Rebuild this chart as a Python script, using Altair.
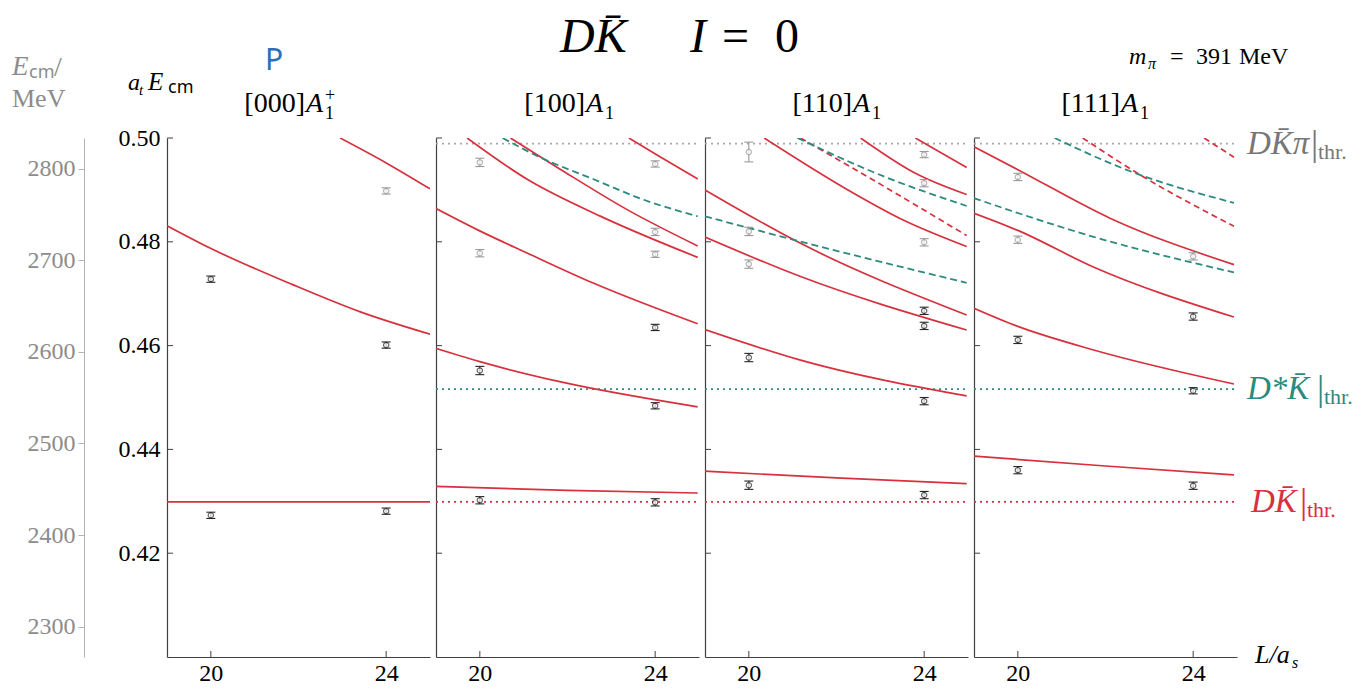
import altair as alt
import pandas as pd

SERIF = "Liberation Serif"
SANS = "Noto Sans"
RED = "#d7313e"
TEAL = "#2c8a7f"
THR_GRAY = "#a8a8a8"
PT_BLACK = "#262626"
PT_GRAY = "#9a9a9a"
AXIS_C = "#404040"
LABEL_GRAY = "#8c8c8c"
BLUE = "#2f6db5"

# scales: box size L/a_s against a_t E_cm, plus the physical-units axis
L_DOMAIN = [19, 25]
E_DOMAIN = [0.40, 0.50]
INV_AT_MEV = 5667.0
W, H = 263, 519

L_TICKS = [20, 24]
E_TICKS = [0.42, 0.44, 0.46, 0.48, 0.50]
MEV_TICKS = [2300, 2400, 2500, 2600, 2700, 2800]

# thresholds in a_t E_cm
THR_DKPI = 0.4989
THR_DSTARK = 0.4516
THR_DK = 0.4299

# non-interacting levels: (style, L values, a_t E values)
P1_CURVES = [
    ("solid", [19.0, 22.0, 25.0], [0.4299, 0.4299, 0.4299]),
    ("solid", [19.0, 19.98, 21.88, 23.41, 25.0], [0.4831, 0.4788, 0.4717, 0.4665, 0.4622]),
    ("solid", [22.95, 24.0, 25.0], [0.5000, 0.4952, 0.4902]),
]
P2_CURVES = [
    ("solid", [18.98, 22.0, 24.97], [0.4329, 0.4321, 0.4316]),
    ("solid", [18.98, 20.0, 21.85, 24.97], [0.4595, 0.4569, 0.4530, 0.4482]),
    ("solid", [18.98, 19.95, 21.09, 22.6, 24.97], [0.4865, 0.4823, 0.4778, 0.4720, 0.4642]),
    ("solid", [19.71, 21.09, 22.76, 24.97], [0.5000, 0.4920, 0.4849, 0.4770]),
    ("solid", [20.70, 21.85, 23.36, 24.97], [0.5000, 0.4939, 0.4862, 0.4792]),
    ("solid", [23.40, 24.11, 24.97], [0.5000, 0.4964, 0.4921]),
    ("teal", [20.52, 21.32, 22.61, 23.74, 24.97], [0.5000, 0.4965, 0.4920, 0.4881, 0.4849]),
]
P3_CURVES = [
    ("solid", [19.0, 22.0, 24.97], [0.4358, 0.4345, 0.4334]),
    ("solid", [19.0, 21.18, 24.97], [0.4631, 0.4572, 0.4503]),
    ("solid", [19.0, 21.18, 24.97], [0.4809, 0.4733, 0.4630]),
    ("solid", [19.0, 21.18, 24.97], [0.4900, 0.4797, 0.4659]),
    ("solid", [20.35, 22.32, 23.45, 24.97], [0.5000, 0.4897, 0.4845, 0.4791]),
    ("solid", [22.55, 23.80, 24.97], [0.5000, 0.4932, 0.4891]),
    ("solid", [23.80, 24.97], [0.5000, 0.4943]),
    ("teal", [19.0, 21.94, 24.97], [0.4849, 0.4784, 0.4721]),
    ("teal", [21.11, 23.08, 24.97], [0.5000, 0.4926, 0.4869]),
    ("reddash", [21.18, 23.08, 24.97], [0.5000, 0.4907, 0.4812]),
]
P4_CURVES = [
    ("solid", [19.0, 22.0, 24.93], [0.4387, 0.4368, 0.4351]),
    ("solid", [19.0, 20.0, 21.71, 24.93], [0.4672, 0.4637, 0.4592, 0.4526]),
    ("solid", [19.0, 20.0, 21.71, 24.93], [0.4855, 0.4822, 0.4752, 0.4655]),
    ("solid", [19.0, 20.0, 22.09, 24.93], [0.4983, 0.4939, 0.4846, 0.4756]),
    ("teal", [19.0, 21.71, 24.93], [0.4884, 0.4810, 0.4741]),
    ("teal", [20.84, 22.47, 24.93], [0.5000, 0.4939, 0.4875]),
    ("reddash", [21.48, 22.85, 24.93], [0.5000, 0.4926, 0.4830]),
    ("reddash", [24.25, 24.93], [0.5000, 0.4963]),
]

# computed levels: (L, a_t E, error, tone)
P1_POINTS = [
    (20, 0.4273, 0.0006, "k"), (24, 0.4281, 0.0006, "k"),
    (20, 0.4728, 0.0006, "k"), (24, 0.4601, 0.0006, "k"),
    (24, 0.4898, 0.0006, "g"),
]
P2_POINTS = [
    (20, 0.4302, 0.0007, "k"), (24, 0.4298, 0.0007, "k"),
    (20, 0.4552, 0.0008, "k"), (24, 0.4484, 0.0006, "k"),
    (24, 0.4635, 0.0006, "k"),
    (20, 0.4778, 0.0007, "g"), (20, 0.4953, 0.0008, "g"),
    (24, 0.4776, 0.0006, "g"), (24, 0.4819, 0.0007, "g"), (24, 0.4950, 0.0006, "g"),
]
P3_POINTS = [
    (20, 0.4331, 0.0008, "k"), (24, 0.4312, 0.0007, "k"),
    (20, 0.4577, 0.0008, "k"), (24, 0.4493, 0.0007, "k"),
    (24, 0.4638, 0.0007, "k"), (24, 0.4667, 0.0007, "k"),
    (20, 0.4757, 0.0008, "g"), (20, 0.4820, 0.0008, "g"), (20, 0.4973, 0.0019, "g"),
    (24, 0.4799, 0.0007, "g"), (24, 0.4913, 0.0007, "g"), (24, 0.4968, 0.0006, "g"),
]
P4_POINTS = [
    (20, 0.4360, 0.0007, "k"), (24, 0.4330, 0.0007, "k"),
    (20, 0.4611, 0.0007, "k"), (24, 0.4513, 0.0006, "k"),
    (24, 0.4656, 0.0007, "k"),
    (20, 0.4804, 0.0007, "g"), (20, 0.4925, 0.0007, "g"),
    (24, 0.4772, 0.0007, "g"),
]

XS = alt.Scale(domain=L_DOMAIN, nice=False, zero=False)
YS = alt.Scale(domain=E_DOMAIN, nice=False, zero=False)


def text(s, x, y, size, color="black", font=SERIF, style="normal",
         align="left", baseline="alphabetic"):
    return alt.Chart(alt.Data(values=[{}])).mark_text(
        text=s, font=font, fontSize=size, fontStyle=style, color=color,
        align=align, baseline=baseline,
    ).encode(x=alt.value(x), y=alt.value(y))


def panel_title(box, x_right):
    return [
        text(box, x_right, -26, 28, align="right"),
        text("A", x_right + 1, -26, 28, style="italic"),
        text("1", x_right + 20, -19, 18),
    ]


def panel(curves, points, first=False, thresholds=True, extras=()):
    xaxis = alt.Axis(values=L_TICKS, format="d", ticks=False, labelFont=SERIF,
                     labelFontSize=24, labelColor="black", labelPadding=4,
                     domainColor=AXIS_C, domainWidth=1.2, grid=False, title=None)
    if first:
        yaxis = alt.Axis(values=E_TICKS, format=".2f", ticks=False, labelFont=SERIF,
                         labelFontSize=24, labelColor="black", labelPadding=7,
                         domainColor=AXIS_C, domainWidth=1.2, grid=False, title=None)
    else:
        yaxis = alt.Axis(labels=False, ticks=False, domainColor=AXIS_C,
                         domainWidth=1.2, grid=False, title=None)

    def X(f):
        return alt.X(f, type="quantitative", scale=XS, axis=xaxis)

    def Y(f):
        return alt.Y(f, type="quantitative", scale=YS, axis=yaxis)

    layers = []
    frame = pd.DataFrame({"L": L_DOMAIN, "E": E_DOMAIN})
    layers.append(alt.Chart(frame).mark_point(opacity=0).encode(x=X("L"), y=Y("E")))

    # inward ticks
    layers.append(alt.Chart(pd.DataFrame({"v": E_TICKS})).mark_rule(
        color=AXIS_C, strokeWidth=1).encode(y=Y("v"), x=alt.value(0), x2=alt.value(6)))
    layers.append(alt.Chart(pd.DataFrame({"v": L_TICKS})).mark_rule(
        color=AXIS_C, strokeWidth=1).encode(x=X("v"), y=alt.value(H), y2=alt.value(H - 6)))

    if thresholds:
        thr = pd.DataFrame({"E": [THR_DKPI, THR_DSTARK, THR_DK],
                            "c": [THR_GRAY, TEAL, RED]})
        layers.append(alt.Chart(thr).mark_rule(strokeDash=[2, 4], strokeWidth=1.8).encode(
            y=Y("E"), x=alt.value(0), x2=alt.value(W),
            color=alt.Color("c:N", scale=None)))

    rows = []
    for cid, (style, ls, es) in enumerate(curves):
        for l, e in zip(ls, es):
            rows.append({"cid": cid, "style": style, "L": l, "E": e})
    cdf = pd.DataFrame(rows)
    styles = {
        "solid": dict(color=RED, strokeWidth=1.7),
        "reddash": dict(color=RED, strokeWidth=1.7, strokeDash=[6, 4]),
        "teal": dict(color=TEAL, strokeWidth=1.8, strokeDash=[7, 4]),
    }
    for st, props in styles.items():
        sub = cdf[cdf["style"] == st]
        if len(sub) == 0:
            continue
        layers.append(alt.Chart(sub).mark_line(clip=True, interpolate="monotone", **props).encode(
            x=X("L"), y=Y("E"), detail="cid:N"))

    pdf = pd.DataFrame(points, columns=["L", "E", "err", "tone"])
    pdf["lo"] = pdf["E"] - pdf["err"]
    pdf["hi"] = pdf["E"] + pdf["err"]
    pdf["c"] = pdf["tone"].map({"k": PT_BLACK, "g": PT_GRAY})
    col = alt.Color("c:N", scale=None)
    pb = alt.Chart(pdf)
    layers.append(pb.mark_rule(strokeWidth=1.1).encode(x=X("L"), y=Y("lo"), y2="hi:Q", color=col))
    layers.append(pb.mark_rule(strokeWidth=1.1, xOffset=-4.5, x2Offset=4.5).encode(
        x=X("L"), x2="L:Q", y=Y("lo"), color=col))
    layers.append(pb.mark_rule(strokeWidth=1.1, xOffset=-4.5, x2Offset=4.5).encode(
        x=X("L"), x2="L:Q", y=Y("hi"), color=col))
    layers.append(pb.mark_point(shape="circle", filled=True, fill="white", size=28,
                                strokeWidth=1.2).encode(x=X("L"), y=Y("E"), stroke=col))

    def right_label(e, main, color, xm, xb, xt):
        d = alt.Chart(pd.DataFrame({"E": [e]}))
        return [
            d.mark_text(text=main, font=SERIF, fontStyle="italic", fontSize=33, color=color,
                        align="left", baseline="middle").encode(x=alt.value(xm), y=Y("E")),
            d.mark_text(text="|", font=SERIF, fontSize=36, color=color,
                        align="left", baseline="middle").encode(x=alt.value(xb), y=Y("E")),
            d.mark_text(text="thr.", font=SERIF, fontSize=22, color=color,
                        align="left", baseline="middle", dy=8).encode(x=alt.value(xt), y=Y("E")),
        ]

    for ex in extras:
        if ex == "right_labels":
            layers += right_label(THR_DKPI, "DK\u0304\u03c0", "#777777", 273, 337, 344)
            layers += right_label(THR_DSTARK, "D*K\u0304", TEAL, 273, 343, 350)
            layers += right_label(THR_DK, "DK\u0304", RED, 277, 326, 333)
        else:
            layers.append(ex)

    return alt.layer(*layers).properties(width=W, height=H)


# panel 1 annotations
p1_text = [
    text("E", -155, -63, 27, LABEL_GRAY, style="italic"),
    text("cm", -138, -60, 18, LABEL_GRAY, font=SANS),
    text("/", -113, -62, 28, LABEL_GRAY),
    text("MeV", -155, -31, 26, LABEL_GRAY),
    text("a", -39, -48, 24, style="italic"),
    text("t", -28, -43, 15, style="italic"),
    text("E", -19, -48, 25, style="italic"),
    text("cm", 1, -45, 18, font=SANS),
    text("P", 98, -68, 30, BLUE, font=SANS),
    text("+", 158, -37, 18),
] + panel_title("[000]", 138)

p2_text = panel_title("[100]", 149) + [
    text("DK\u0304", 124, -86, 48, style="italic"),
    text("I", 254, -86, 48, style="italic"),
    text("=", 286, -86, 48),
    text("0", 339, -86, 48),
]
p3_text = panel_title("[110]", 147)
p4_text = panel_title("[111]", 146) + [
    text("m", 155, -74, 24, style="italic"),
    text("\u03c0", 174, -69, 16, style="italic"),
    text("=", 196, -74, 24),
    text("391", 222, -74, 24),
    text("MeV", 265, -74, 24),
    text("L/a", 281, H + 6, 26, style="italic"),
    text("s", 318, H + 11, 16, style="italic"),
]

inner1 = panel(P1_CURVES, P1_POINTS, first=True, thresholds=False, extras=p1_text)

mev = alt.Chart(pd.DataFrame({"mev": [E_DOMAIN[0] * INV_AT_MEV, E_DOMAIN[1] * INV_AT_MEV]})).mark_point(
    opacity=0).encode(
    y=alt.Y("mev:Q",
            scale=alt.Scale(domain=[E_DOMAIN[0] * INV_AT_MEV, E_DOMAIN[1] * INV_AT_MEV],
                            nice=False, zero=False),
            axis=alt.Axis(orient="left", offset=83, values=MEV_TICKS, format="d",
                          labelFont=SERIF, labelFontSize=24, labelColor=LABEL_GRAY,
                          labelPadding=3, domainColor="#b4b4b4", tickColor="#b4b4b4",
                          tickSize=6, grid=False, title=None))
)
p1 = alt.layer(inner1, mev).resolve_scale(y="independent").properties(width=W, height=H)

p2 = panel(P2_CURVES, P2_POINTS, extras=p2_text)
p3 = panel(P3_CURVES, P3_POINTS, extras=p3_text)
p4 = panel(P4_CURVES, P4_POINTS, extras=list(p4_text) + ["right_labels"])

chart = alt.hconcat(p1, p2, p3, p4, spacing=6, bounds="flush").properties(
    padding={"left": 12, "top": 14, "right": 0, "bottom": 5}
).configure_view(stroke=None)

chart.save("out.html", embed_options={"renderer": "svg", "actions": False})
